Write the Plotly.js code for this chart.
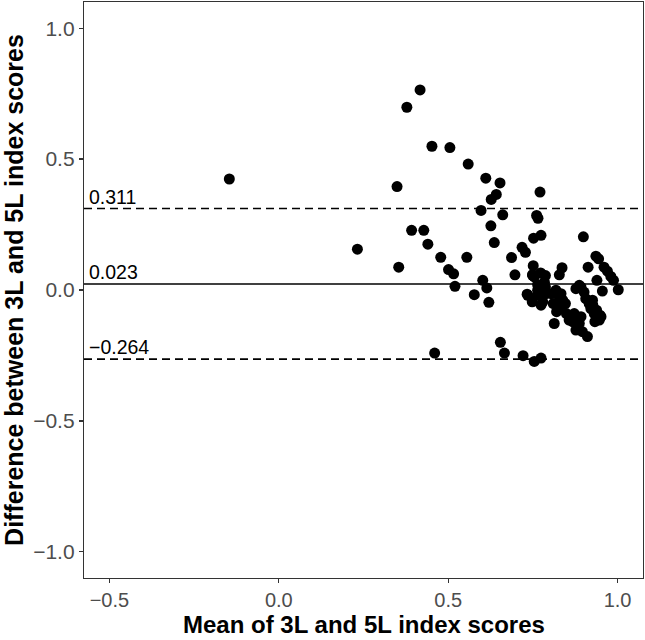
<!DOCTYPE html>
<html>
<head>
<meta charset="utf-8">
<script src="https://cdn.plot.ly/plotly-3.0.1.min.js"></script>
<style>html,body{margin:0;padding:0;background:#fff;}#chart{width:645px;height:640px;}</style>
</head>
<body>
<div id="chart"></div>
<script>
// Mean of 3L and 5L index scores (x) and their difference (y)
const meanScores = [
  -0.146, 0.232, 0.349, 0.354, 0.378, 0.392, 0.417, 0.428, 0.440, 0.452,
  0.460, 0.478, 0.501, 0.505, 0.516, 0.520, 0.555, 0.559, 0.577, 0.597,
  0.602, 0.611, 0.614, 0.620, 0.626, 0.627, 0.636, 0.642, 0.653, 0.654,
  0.661, 0.666, 0.687, 0.697, 0.718, 0.721, 0.728, 0.752, 0.774, 0.751,
  0.749, 0.754, 0.774, 0.761, 0.765, 0.771, 0.899, 0.936, 0.944, 0.913,
  0.960, 0.970, 0.980, 0.988, 1.002, 0.939, 0.955, 0.836, 0.828,
  0.749, 0.773, 0.787, 0.784, 0.787, 0.764, 0.754, 0.733, 0.748, 0.774,
  0.764, 0.804, 0.818, 0.828, 0.810, 0.820, 0.833, 0.846, 0.849, 0.857,
  0.872, 0.882, 0.813, 0.833, 0.838, 0.862, 0.867, 0.877, 0.892, 0.901,
  0.906, 0.916, 0.926, 0.921, 0.931, 0.946, 0.951, 0.892, 0.887, 0.877,
  0.896, 0.911, 0.887, 0.938, 0.948, 0.933, 0.927, 0.735, 0.779, 0.789,
  0.764
];
const diffScores = [
  0.424, 0.156, 0.395, 0.087, 0.698, 0.228, 0.764, 0.228, 0.175, 0.549,
  -0.241, 0.125, 0.078, 0.544, 0.062, 0.014, 0.125, 0.481, -0.018, 0.304,
  0.037, 0.427, 0.008, -0.047, 0.245, 0.346, 0.181, 0.365, 0.409, -0.200,
  0.287, -0.241, 0.124, 0.058, 0.163, -0.251, 0.144, 0.198, 0.209, 0.093,
  0.056, -0.273, -0.260, 0.285, 0.274, 0.374, 0.203, 0.129, 0.119, 0.087,
  0.087, 0.072, 0.052, 0.037, 0.001, 0.037, -0.004, 0.085, 0.058,
  0.059, 0.065, 0.055, 0.030, 0.011, 0.020, 0.050, -0.016, -0.045, -0.058,
  -0.001, -0.014, -0.001, -0.027, -0.052, -0.083, -0.064, -0.052, -0.090, -0.115,
  -0.090, -0.128, -0.128, -0.014, -0.039, -0.102, -0.121, 0.005, 0.011, -0.008,
  -0.033, -0.052, -0.039, -0.071, -0.090, -0.115, -0.102, -0.102, -0.128, -0.153,
  -0.159, -0.178, 0.018, -0.077, -0.096, -0.121, -0.058, -0.020, -0.045, -0.014,
  -0.020
];
// Bias and limits of agreement
const limitValues = [0.311, 0.023, -0.264];
const limitLabels = ["0.311", "0.023", "\u22120.264"];
const limitDash = ["8px,5px", "solid", "8px,5px"];
// Axis ticks and titles
const xTicks = [-0.5, 0.0, 0.5, 1.0];
const xTickText = ["\u22120.5", "0.0", "0.5", "1.0"];
const yTicks = [-1.0, -0.5, 0.0, 0.5, 1.0];
const yTickText = ["\u22121.0", "\u22120.5", "0.0", "0.5", "1.0"];
const xTitle = "Mean of 3L and 5L index scores";
const yTitle = "Difference between 3L and 5L index scores";

const FONT = "Liberation Sans, Arial, sans-serif";
const BOTTOM = 62;

const trace = {
  x: meanScores, y: diffScores, type: "scatter", mode: "markers",
  marker: {color: "#000000", size: 11, line: {width: 0}},
  hoverinfo: "x+y", showlegend: false
};

const shapes = limitValues.map((v, i) => ({
  type: "line", xref: "paper", x0: 0, x1: 1, yref: "y", y0: v, y1: v,
  line: {color: "#000000", width: 1.6, dash: limitDash[i]}, layer: "below"
}));

const annotations = limitValues.map((v, i) => ({
  xref: "x", yref: "y", x: -0.565, y: v, text: limitLabels[i],
  xanchor: "left", yanchor: "bottom", showarrow: false, yshift: -1,
  font: {family: FONT, size: 19.5, color: "#000000"}
}));
annotations.push({
  xref: "paper", yref: "paper", x: 0.5, y: 0, yshift: -BOTTOM + 1,
  xanchor: "center", yanchor: "bottom", showarrow: false, text: xTitle,
  borderpad: 0,
  font: {family: FONT, size: 24, color: "#000000", weight: "bold"}
});

const layout = {
  width: 645, height: 640,
  margin: {l: 84, r: 2, t: 2, b: BOTTOM},
  paper_bgcolor: "#ffffff", plot_bgcolor: "#ffffff",
  showlegend: false,
  xaxis: {
    range: [-0.575, 1.075], tickvals: xTicks, ticktext: xTickText,
    showgrid: false, zeroline: false, showline: true, mirror: true,
    linecolor: "#333333", linewidth: 1.2, automargin: false,
    ticks: "outside", ticklen: 4, tickwidth: 1.2, tickcolor: "#333333",
    tickfont: {family: FONT, size: 20, color: "#4d4d4d"}
  },
  yaxis: {
    range: [-1.1, 1.1], tickvals: yTicks, ticktext: yTickText,
    showgrid: false, zeroline: false, showline: true, mirror: true,
    linecolor: "#333333", linewidth: 1.2, automargin: false,
    ticks: "outside", ticklen: 4, tickwidth: 1.2, tickcolor: "#333333",
    tickfont: {family: FONT, size: 21, color: "#4d4d4d"},
    title: {text: yTitle, standoff: 3,
      font: {family: FONT, size: 25, color: "#000000", weight: "bold"}}
  },
  shapes: shapes,
  annotations: annotations
};

Plotly.newPlot("chart", [trace], layout, {displayModeBar: false, staticPlot: true});
</script>
</body>
</html>
